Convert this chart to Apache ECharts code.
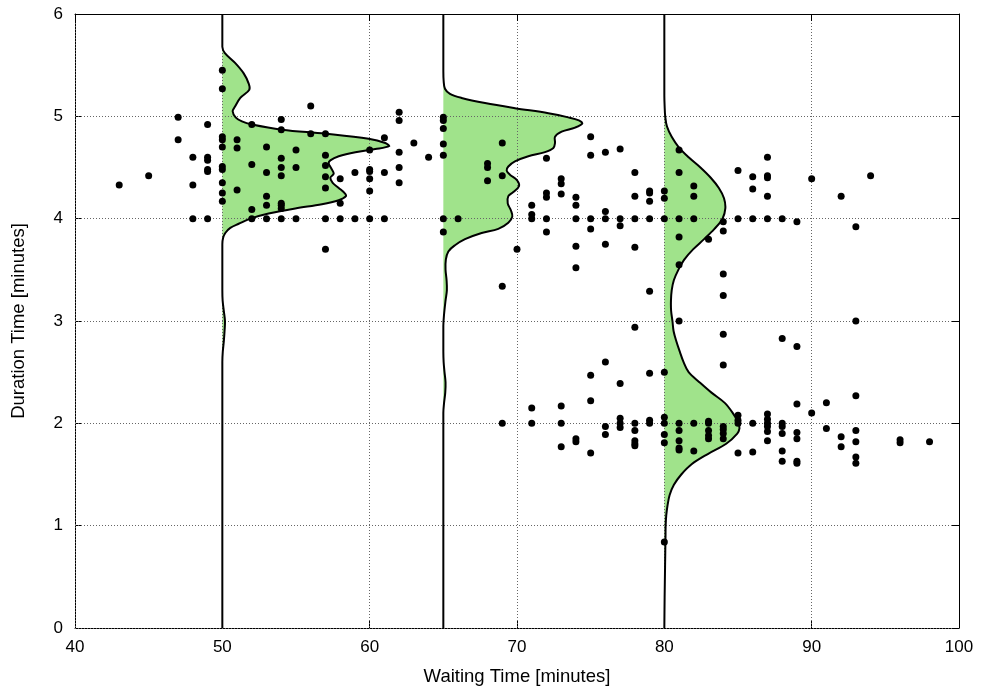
<!DOCTYPE html>
<html>
<head>
<meta charset="utf-8">
<script src="https://cdn.jsdelivr.net/npm/echarts@6/dist/echarts.min.js"></script>
<style>
  html, body { margin: 0; padding: 0; background: #fff; }
  #chart { width: 981px; height: 693px; }
</style>
</head>
<body>
<div id="chart"></div>
<script>
// Eruptions: [waiting time (min), duration (min)]
const eruptions = [
  [43, 4.33], [45, 4.42],
  [47, 4.99], [47, 4.77],
  [48, 4.60], [48, 4.33], [48, 4.00],
  [49, 4.92], [49, 4.60], [49, 4.57], [49, 4.48], [49, 4.46], [49, 4.00],
  [50, 5.45], [50, 5.27], [50, 4.80], [50, 4.77], [50, 4.70], [50, 4.51], [50, 4.48], [50, 4.35], [50, 4.25], [50, 4.17],
  [51, 4.77], [51, 4.69], [51, 4.28],
  [52, 4.92], [52, 4.53], [52, 4.09], [52, 4.00],
  [53, 4.70], [53, 4.45], [53, 4.22], [53, 4.13], [53, 4.00],
  [54, 4.97], [54, 4.87], [54, 4.59], [54, 4.50], [54, 4.42], [54, 4.15], [54, 4.13], [54, 4.10], [54, 4.00],
  [55, 4.67], [55, 4.50], [55, 4.00],
  [56, 5.10], [56, 4.83],
  [57, 4.83], [57, 4.62], [57, 4.52], [57, 4.41], [57, 4.30], [57, 4.00], [57, 3.70],
  [58, 4.39], [58, 4.15], [58, 4.00],
  [59, 4.45], [59, 4.00],
  [60, 4.67], [60, 4.48], [60, 4.46], [60, 4.39], [60, 4.27], [60, 4.00],
  [61, 4.79], [61, 4.45], [61, 4.00],
  [62, 5.04], [62, 4.96], [62, 4.65], [62, 4.50], [62, 4.35],
  [63, 4.74], [64, 4.60],
  [65, 4.99], [65, 4.96], [65, 4.88], [65, 4.73], [65, 4.62], [65, 4.00], [65, 3.87],
  [66, 4.00],
  [68, 4.54], [68, 4.50], [68, 4.37],
  [69, 4.74], [69, 4.42], [69, 3.34], [69, 2.00],
  [70, 3.70],
  [71, 4.13], [71, 4.04], [71, 4.00], [71, 2.15], [71, 2.00],
  [72, 4.59], [72, 4.25], [72, 4.21], [72, 4.00], [72, 3.87],
  [73, 4.39], [73, 4.34], [73, 4.24], [73, 2.17], [73, 2.00], [73, 1.77],
  [74, 4.21], [74, 4.13], [74, 4.00], [74, 3.73], [74, 3.52], [74, 1.85], [74, 1.82],
  [75, 4.80], [75, 4.62], [75, 4.00], [75, 3.90], [75, 2.47], [75, 2.22], [75, 1.71],
  [76, 4.65], [76, 4.07], [76, 4.00], [76, 3.75], [76, 2.60], [76, 1.97], [76, 1.89],
  [77, 4.68], [77, 4.00], [77, 3.93], [77, 2.39], [77, 2.05], [77, 2.00], [77, 1.96],
  [78, 4.45], [78, 4.22], [78, 4.00], [78, 3.72], [78, 2.94], [78, 2.00], [78, 1.93], [78, 1.83], [78, 1.80], [78, 1.78],
  [79, 4.27], [79, 4.25], [79, 4.17], [79, 4.00], [79, 3.29], [79, 2.49], [79, 2.03], [79, 2.00],
  [80, 4.27], [80, 4.20], [80, 4.00], [80, 2.50], [80, 2.06], [80, 2.00], [80, 1.89], [80, 1.81], [80, 0.84],
  [81, 4.67], [81, 4.45], [81, 4.00], [81, 3.82], [81, 3.55], [81, 3.00], [81, 2.00], [81, 1.93], [81, 1.83], [81, 1.76], [81, 1.74],
  [82, 4.32], [82, 4.22], [82, 4.00], [82, 2.00], [82, 1.73],
  [83, 3.80], [83, 2.02], [83, 2.00], [83, 1.93], [83, 1.88], [83, 1.85],
  [84, 3.97], [84, 3.88], [84, 3.46], [84, 3.25], [84, 2.87], [84, 2.57], [84, 1.97], [84, 1.94], [84, 1.90], [84, 1.85],
  [85, 4.47], [85, 4.00], [85, 2.08], [85, 2.03], [85, 2.00], [85, 1.71],
  [86, 4.41], [86, 4.29], [86, 4.00], [86, 2.00], [86, 1.72],
  [87, 4.60], [87, 4.42], [87, 4.40], [87, 4.22], [87, 4.00], [87, 2.09], [87, 2.04], [87, 2.00], [87, 1.97], [87, 1.92], [87, 1.83],
  [88, 4.00], [88, 2.83], [88, 2.00], [88, 1.97], [88, 1.90], [88, 1.73], [88, 1.63],
  [89, 3.97], [89, 2.75], [89, 2.19], [89, 1.91], [89, 1.85], [89, 1.63], [89, 1.61],
  [90, 4.39], [90, 2.10],
  [91, 2.20], [91, 1.95],
  [92, 4.22], [92, 1.87], [92, 1.77],
  [93, 3.92], [93, 3.00], [93, 2.27], [93, 1.93], [93, 1.82], [93, 1.67], [93, 1.61],
  [94, 4.42],
  [96, 1.84], [96, 1.81],
  [98, 1.82]
];

// Waiting times at which a duration density profile is drawn
const sliceWaits = [50, 65, 80];

// Density profiles: [duration, horizontal extent in waiting-time units]
const profileAt50 = [
  [0, 0], [2.6, 0], [2.7, 0.03], [2.8, 0.1], [2.9, 0.15], [3.0, 0.18], [3.1, 0.1], [3.2, 0.02], [3.3, 0],
  [3.75, 0], [3.81, 0.05], [3.86, 0.2], [3.91, 0.54], [3.95, 1.11], [4.0, 1.9], [4.05, 3.14], [4.1, 4.95],
  [4.14, 6.76], [4.18, 7.9], [4.22, 8.39], [4.25, 8.3], [4.3, 7.9], [4.35, 7.49], [4.4, 7.33], [4.44, 7.56],
  [4.49, 7.4], [4.54, 7.22], [4.57, 7.33], [4.61, 7.9], [4.65, 9.03], [4.68, 10.38], [4.71, 11.33],
  [4.74, 11.06], [4.78, 9.93], [4.83, 6.99], [4.87, 4.05], [4.92, 2.01], [4.95, 1.33], [4.99, 0.9],
  [5.05, 0.7], [5.09, 0.84], [5.18, 1.22], [5.26, 1.83], [5.32, 1.79], [5.42, 1.45], [5.52, 0.88],
  [5.62, 0.16], [5.68, 0], [6, 0]
];
const profileAt65 = [
  [0, 0], [2.1, 0], [2.2, 0.05], [2.3, 0.13], [2.4, 0.15], [2.5, 0.08], [2.6, 0.02], [2.7, 0],
  [2.95, 0], [3.05, 0.04], [3.2, 0.15], [3.3, 0.24], [3.4, 0.22], [3.5, 0.15], [3.6, 0.17], [3.68, 0.34],
  [3.74, 0.79], [3.8, 1.47], [3.86, 2.6], [3.9, 3.73], [3.96, 4.41], [4.02, 4.68], [4.08, 4.59],
  [4.15, 4.37], [4.22, 4.41], [4.26, 4.75], [4.32, 5.14], [4.38, 4.98], [4.43, 4.52], [4.47, 4.3],
  [4.51, 4.41], [4.56, 4.86], [4.61, 5.77], [4.65, 6.9], [4.69, 7.47], [4.74, 7.58], [4.8, 7.58],
  [4.85, 8.03], [4.89, 8.94], [4.93, 9.43], [4.96, 9.2], [4.99, 8.48], [5.03, 7.13], [5.08, 4.86],
  [5.13, 2.83], [5.18, 1.24], [5.22, 0.45], [5.27, 0.11], [5.35, 0.02], [5.45, 0], [6, 0]
];
const profileAt80 = [
  [0, 0], [0.3, 0.02], [0.6, 0.05], [0.9, 0.08], [1.0, 0.09], [1.1, 0.13], [1.2, 0.22], [1.3, 0.36],
  [1.4, 0.65], [1.5, 1.15], [1.6, 1.85], [1.7, 2.95], [1.8, 4.2], [1.9, 4.95], [1.95, 5.1], [2.0, 5.05],
  [2.1, 4.65], [2.2, 4.1], [2.3, 3.2], [2.4, 2.4], [2.5, 1.65], [2.6, 1.3], [2.7, 1.05], [2.8, 0.82],
  [2.9, 0.63], [3.0, 0.55], [3.1, 0.46], [3.2, 0.45], [3.3, 0.5], [3.4, 0.65], [3.5, 0.95], [3.6, 1.35],
  [3.7, 1.95], [3.8, 2.7], [3.9, 3.4], [4.0, 3.95], [4.1, 4.14], [4.2, 4.05], [4.3, 3.7], [4.4, 3.15],
  [4.5, 2.45], [4.6, 1.65], [4.7, 0.97], [4.8, 0.5], [4.9, 0.18], [5.0, 0.06], [5.1, 0.02], [5.2, 0], [6, 0]
];
const profiles = [profileAt50, profileAt65, profileAt80];

const xTicks = { min: 40, max: 100, step: 10 };
const yTicks = { min: 0, max: 6, step: 1 };

const FONT = 'Liberation Sans';

function profilePoints(api, i) {
  const base = sliceWaits[i];
  return profiles[i].map(function (p) { return api.coord([base + p[1], p[0]]); });
}

// Keep the bezier control points inside the profile's own bounding box,
// so the smoothed outline never crosses back over its baseline.
function selfBox(pts) {
  return [pts[0].slice(), pts[0].slice()];
}

function renderFill(params, api) {
  const pts = profilePoints(api, params.dataIndex);
  return {
    type: 'polygon',
    shape: { points: pts, smooth: 0.35, smoothConstraint: selfBox(pts) },
    style: { fill: '#a0e38b', stroke: null }
  };
}

function renderOutline(params, api) {
  const pts = profilePoints(api, params.dataIndex);
  return {
    type: 'polyline',
    shape: { points: pts, smooth: 0.35, smoothConstraint: selfBox(pts) },
    style: { fill: null, stroke: '#000', lineWidth: 2 }
  };
}

const gridLine = { show: true, lineStyle: { color: '#666', type: [1, 2], width: 1 } };
const frameLine = { show: true, onZero: false, lineStyle: { color: '#000', width: 1 } };
const innerTick = { show: true, inside: true, length: 7, lineStyle: { color: '#000', width: 1 } };

const chart = echarts.init(document.getElementById('chart'), null, { renderer: 'canvas' });
chart.setOption({
  animation: false,
  backgroundColor: '#fff',
  grid: { left: 75, top: 14, width: 884, height: 614, containLabel: false },
  xAxis: [
    {
      type: 'value', position: 'bottom', min: xTicks.min, max: xTicks.max, interval: xTicks.step,
      name: 'Waiting Time [minutes]', nameLocation: 'middle', nameGap: 39,
      nameTextStyle: { fontFamily: FONT, fontSize: 18.5, color: '#000' },
      axisLine: frameLine, axisTick: innerTick,
      axisLabel: { fontFamily: FONT, fontSize: 17, color: '#000', margin: 11 },
      splitLine: { show: false }
    },
    {
      type: 'value', position: 'top', min: xTicks.min, max: xTicks.max, interval: xTicks.step,
      axisLine: frameLine, axisTick: innerTick, axisLabel: { show: false },
      splitLine: gridLine, z: 3
    }
  ],
  yAxis: [
    {
      type: 'value', position: 'left', min: yTicks.min, max: yTicks.max, interval: yTicks.step,
      name: 'Duration Time [minutes]', nameLocation: 'middle', nameGap: 47, nameRotate: 90,
      nameTextStyle: { fontFamily: FONT, fontSize: 18.5, color: '#000' },
      axisLine: frameLine, axisTick: innerTick,
      axisLabel: { fontFamily: FONT, fontSize: 17, color: '#000', margin: 12 },
      splitLine: { show: false }
    },
    {
      type: 'value', position: 'right', min: yTicks.min, max: yTicks.max, interval: yTicks.step,
      axisLine: frameLine, axisTick: innerTick, axisLabel: { show: false },
      splitLine: gridLine, z: 3
    }
  ],
  series: [
    {
      type: 'custom', name: 'density fill', xAxisIndex: 0, yAxisIndex: 0,
      data: sliceWaits.map(function (w, i) { return [w, i]; }),
      renderItem: renderFill, clip: true, silent: true, z: 2
    },
    {
      type: 'custom', name: 'density outline', xAxisIndex: 0, yAxisIndex: 0,
      data: sliceWaits.map(function (w, i) { return [w, i]; }),
      renderItem: renderOutline, clip: true, silent: true, z: 4
    },
    {
      type: 'scatter', name: 'eruptions', xAxisIndex: 0, yAxisIndex: 0,
      data: eruptions, symbol: 'circle', symbolSize: 7,
      itemStyle: { color: '#000', opacity: 1 }, z: 5
    }
  ]
});
</script>
</body>
</html>
